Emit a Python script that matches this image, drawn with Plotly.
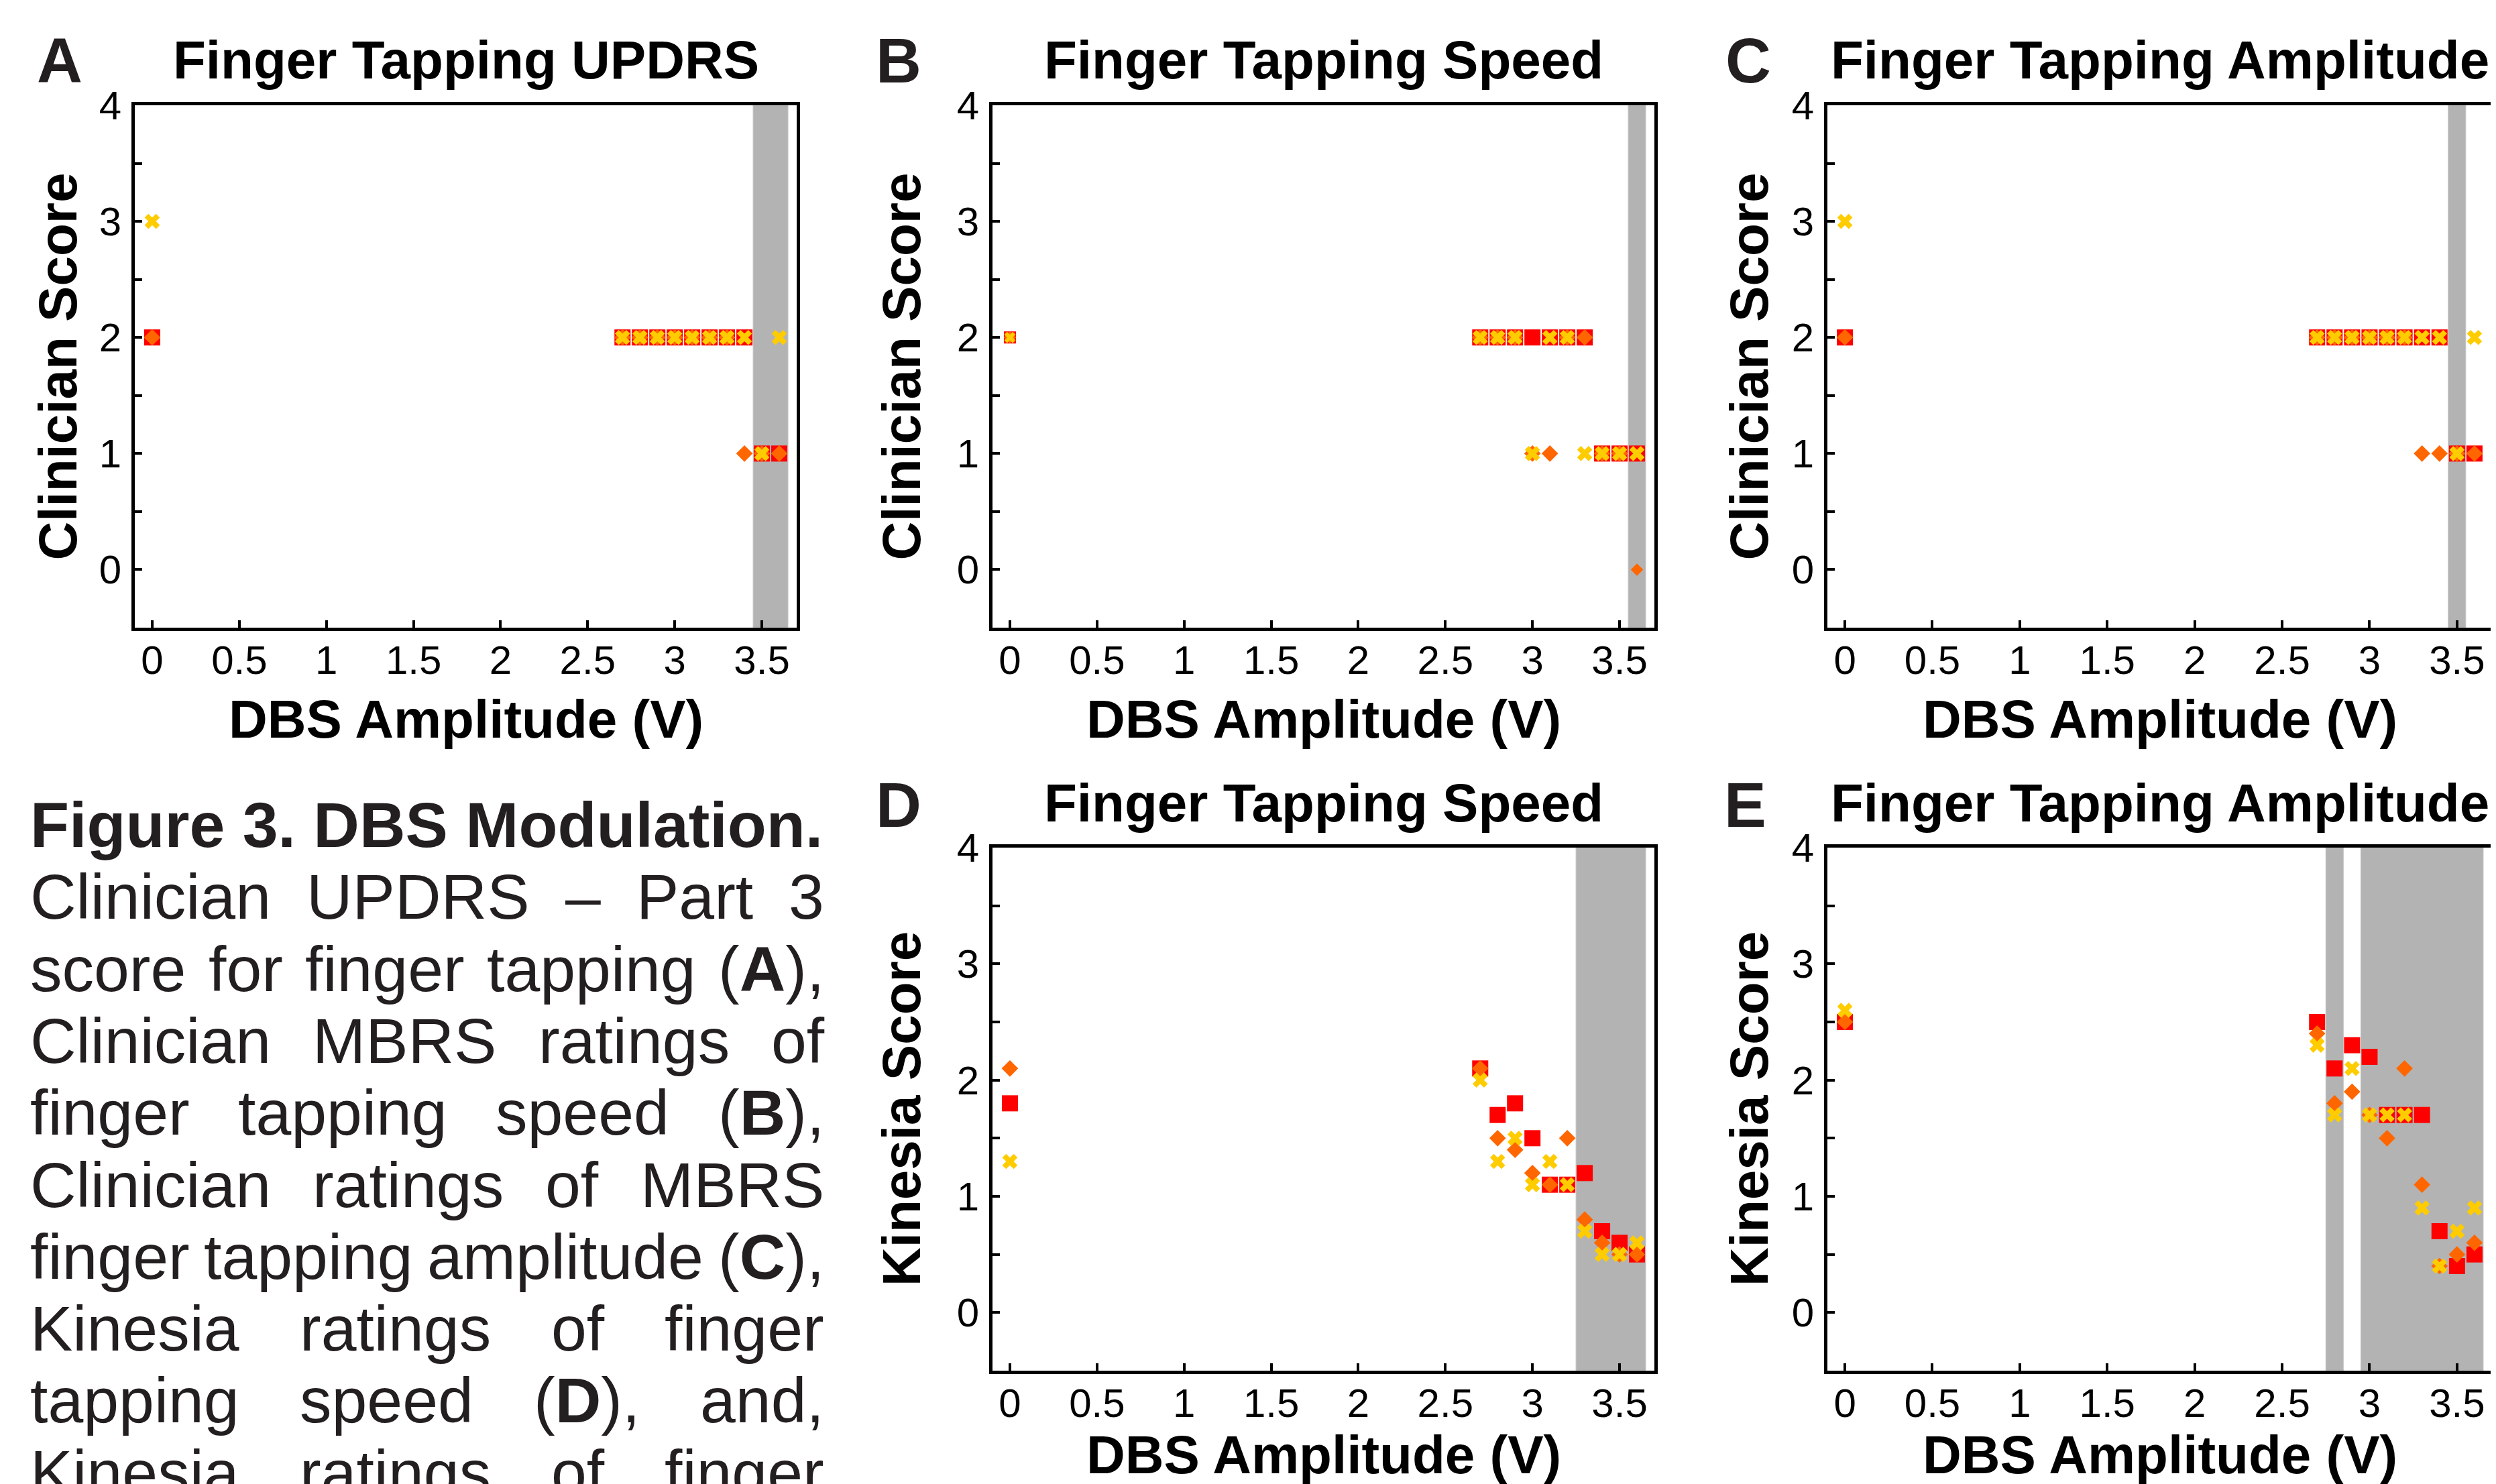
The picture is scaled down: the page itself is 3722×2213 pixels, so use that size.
import plotly.graph_objects as go

W, H = 3722, 2213

# ---------------- data ----------------
amp = [0, 2.7, 2.8, 2.9, 3.0, 3.1, 3.2, 3.3, 3.4, 3.5, 3.6]

A_sq = [2, 2, 2, 2, 2, 2, 2, 2, 2, 1, 1]
A_dia = [2, 2, 2, 2, 2, 2, 2, 2, 1, 1, 1]
A_x = [3, 2, 2, 2, 2, 2, 2, 2, 2, 1, 2]

B_sq = [2, 2, 2, 2, 2, 2, 2, 2, 1, 1, 1]
B_dia = [2, 2, 2, 2, 1, 1, 2, 2, 1, 1, 0]
B_x = [2, 2, 2, 2, 1, 2, 2, 1, 1, 1, 1]

C_sq = [2, 2, 2, 2, 2, 2, 2, 2, 2, 1, 1]
C_dia = [2, 2, 2, 2, 2, 2, 2, 1, 1, 1, 1]
C_x = [3, 2, 2, 2, 2, 2, 2, 2, 2, 1, 2]

D_sq = [1.8, 2.1, 1.7, 1.8, 1.5, 1.1, 1.1, 1.2, 0.7, 0.6, 0.5]
D_dia = [2.1, 2.1, 1.5, 1.4, 1.2, 1.1, 1.5, 0.8, 0.6, 0.5, 0.5]
D_x = [1.3, 2.0, 1.3, 1.5, 1.1, 1.3, 1.1, 0.7, 0.5, 0.5, 0.6]

E_sq = [2.5, 2.5, 2.1, 2.3, 2.2, 1.7, 1.7, 1.7, 0.7, 0.4, 0.5]
E_dia = [2.5, 2.4, 1.8, 1.9, 1.7, 1.5, 2.1, 1.1, 0.4, 0.5, 0.6]
E_x = [2.6, 2.3, 1.7, 2.1, 1.7, 1.7, 1.7, 0.9, 0.4, 0.7, 0.9]

# shaded amplitude windows
A_bands = [(3.45, 3.65)]
B_bands = [(3.55, 3.65)]
C_bands = [(3.45, 3.55)]
D_bands = [(3.25, 3.65)]
E_bands = [(2.75, 2.85), (2.95, 3.65)]

titles = {"A": "Finger Tapping UPDRS", "B": "Finger Tapping Speed",
          "C": "Finger Tapping Amplitude", "D": "Finger Tapping Speed",
          "E": "Finger Tapping Amplitude"}
ytitles = {"A": "Clinician Score", "B": "Clinician Score", "C": "Clinician Score",
           "D": "Kinesia Score", "E": "Kinesia Score"}
xtitle = "DBS Amplitude (V)"
x_tickvals = [0, 0.5, 1, 1.5, 2, 2.5, 3, 3.5]
x_ticktext = ["0", "0.5", "1", "1.5", "2", "2.5", "3", "3.5"]
y_tickvals = [0, 0.5, 1, 1.5, 2, 2.5, 3, 3.5, 4]
y_ticktext = ["0", "", "1", "", "2", "", "3", "", "4"]

caption_title = "Figure 3. DBS Modulation."
caption_lines = [
    "Clinician UPDRS – Part 3",
    "score for finger tapping (**A**),",
    "Clinician MBRS ratings of",
    "finger tapping speed (**B**),",
    "Clinician ratings of MBRS",
    "finger tapping amplitude (**C**),",
    "Kinesia ratings of finger",
    "tapping speed (**D**), and,",
    "Kinesia ratings of finger",
]

# ---------------- layout geometry (target pixels in the picture) ----------------
panels = {
    #      x0    x1    ytop  ybot
    "A": (201, 1188, 157, 936),
    "B": (1480, 2467, 157, 936),
    "C": (2725, 3716, 157, 936),
    "D": (1480, 2467, 1264, 2044),
    "E": (2725, 3716, 1264, 2044),
}
series = {
    "A": (A_sq, A_dia, A_x, A_bands),
    "B": (B_sq, B_dia, B_x, B_bands),
    "C": (C_sq, C_dia, C_x, C_bands),
    "D": (D_sq, D_dia, D_x, D_bands),
    "E": (E_sq, E_dia, E_x, E_bands),
}
letter_pos = {"A": (89, 90), "B": (1340, 90), "C": (2607, 90),
              "D": (1340, 1200), "E": (2602, 1200)}
ytitle_x = {"A": 86, "B": 1344, "C": 2608, "D": 1344, "E": 2608}

FONT = "Liberation Sans, Arial, Helvetica, sans-serif"
RED, ORANGE, YELLOW, GRAY = "#ff0000", "#ff6600", "#ffcc00", "#b3b3b3"
OFF = 8  # page body margin offset

def px(x):
    return (x - OFF) / W

def py(y):
    return 1 - (y - OFF) / H

fig = go.Figure()
annotations = []
shapes = []

for i, key in enumerate(["A", "B", "C", "D", "E"]):
    x0, x1, yt, yb = panels[key]
    sq, dia, xx, bands = series[key]
    n = i + 1
    xa = "x" if n == 1 else f"x{n}"
    ya = "y" if n == 1 else f"y{n}"
    small = 0.75
    s_sq = [24] * len(amp)
    s_dia = [19] * len(amp)
    s_x = [20] * len(amp)
    if key == "B":
        s_sq[0] *= small
        s_dia[0] *= small
        s_x[0] *= small
        s_dia[-1] *= small
    fig.add_trace(go.Scatter(x=amp, y=sq, mode="markers", xaxis=xa, yaxis=ya,
                             name="Series 1", showlegend=False,
                             marker=dict(symbol="square", size=s_sq, color=RED,
                                         opacity=1, line=dict(width=0))))
    fig.add_trace(go.Scatter(x=amp, y=dia, mode="markers", xaxis=xa, yaxis=ya,
                             name="Series 2", showlegend=False,
                             marker=dict(symbol="diamond", size=s_dia, color=ORANGE,
                                         opacity=1, line=dict(width=0))))
    fig.add_trace(go.Scatter(x=amp, y=xx, mode="markers", xaxis=xa, yaxis=ya,
                             name="Series 3", showlegend=False,
                             marker=dict(symbol="x", size=s_x, color=YELLOW,
                                         opacity=1, line=dict(width=0))))
    for b0, b1 in bands:
        shapes.append(dict(type="rect", xref=xa, yref=f"{ya} domain",
                           x0=b0, x1=b1, y0=0, y1=1, fillcolor=GRAY,
                           line=dict(width=1, color="#c4c4c4"), layer="below"))
    axcommon = dict(showgrid=False, zeroline=False, showline=True, linewidth=5,
                    linecolor="black", mirror=True, ticks="inside", ticklen=11,
                    tickwidth=4, tickcolor="black", automargin=False,
                    tickfont=dict(family=FONT, size=60, color="black"))
    fig.update_layout(**{
        ("xaxis" if n == 1 else f"xaxis{n}"): dict(
            domain=[px(x0), px(x1)], range=[-0.1, 3.7], anchor=ya,
            tickvals=x_tickvals, ticktext=x_ticktext, ticklabelstandoff=-8,
            **axcommon),
        ("yaxis" if n == 1 else f"yaxis{n}"): dict(
            domain=[py(yb), py(yt)], range=[-0.5, 4], anchor=xa,
            tickvals=y_tickvals, ticktext=y_ticktext, ticklabelstandoff=3,
            **axcommon),
    })
    cx = (x0 + x1) / 2
    cy = (yt + yb) / 2
    ttl_y = 89 if yt < 500 else 1197
    annotations.append(dict(text=f"<b>{titles[key]}</b>", x=px(cx), y=py(ttl_y),
                            xref="paper", yref="paper", showarrow=False,
                            xanchor="center", yanchor="middle",
                            font=dict(family=FONT, size=80, color="black")))
    lx, ly = letter_pos[key]
    annotations.append(dict(text=f"<b>{key}</b>", x=px(lx), y=py(ly),
                            xref="paper", yref="paper", showarrow=False,
                            xanchor="center", yanchor="middle",
                            font=dict(family=FONT, size=94, color="#231f20")))
    annotations.append(dict(text=f"<b>{ytitles[key]}</b>", x=px(ytitle_x[key]), y=py(cy),
                            xref="paper", yref="paper", showarrow=False, textangle=-90,
                            xanchor="center", yanchor="middle",
                            font=dict(family=FONT, size=80, color="black")))
    xt_y = 1072 if yt < 500 else 2169
    annotations.append(dict(text=f"<b>{xtitle}</b>", x=px(cx), y=py(xt_y),
                            xref="paper", yref="paper", showarrow=False,
                            xanchor="center", yanchor="middle",
                            font=dict(family=FONT, size=80, color="black")))

# ---------------- caption (justified text) ----------------
REG = {c: w for c, w in zip("abcdefghijklmnopqrstuvwxyz",
       [556, 556, 500, 556, 556, 278, 556, 556, 222, 222, 500, 222, 833, 556,
        556, 556, 556, 333, 500, 278, 556, 500, 722, 500, 500, 500])}
REG.update({c: w for c, w in zip("ABCDEFGHIJKLMNOPQRSTUVWXYZ",
       [667, 667, 722, 722, 667, 611, 778, 722, 278, 500, 667, 556, 833, 722,
        778, 667, 778, 722, 667, 611, 722, 667, 944, 667, 667, 611])})
REG.update({d: 556 for d in "0123456789"})
REG.update({" ": 278, "(": 333, ")": 333, ",": 278, ".": 278, "–": 556})
BOLD_CAP = {"A": 722, "B": 722, "C": 722, "D": 722}

def word_width(word, fs):
    total = 0
    parts = word.split("**")
    for k, part in enumerate(parts):
        bold = (k % 2 == 1)
        for ch in part:
            total += BOLD_CAP.get(ch, REG.get(ch, 556)) if bold else REG.get(ch, 556)
    return total * fs / 1000.0

def to_html(word):
    parts = word.split("**")
    return "".join(f"<b>{p}</b>" if k % 2 else p for k, p in enumerate(parts))

CAP_FS = 95
LEFT, RIGHT = 44, 1228
line0 = 1230
step = 107.3
annotations.append(dict(text=f"<b>{caption_title}</b>", x=px(LEFT), y=py(line0),
                        xref="paper", yref="paper", showarrow=False,
                        xanchor="left", yanchor="middle", borderpad=0,
                        font=dict(family=FONT, size=CAP_FS, color="#231f20")))
for li, line in enumerate(caption_lines):
    ycen = line0 + step * (li + 1)
    words = line.split(" ")
    widths = [word_width(wd, CAP_FS) for wd in words]
    gap = (RIGHT - LEFT - sum(widths)) / (len(words) - 1)
    xcur = LEFT
    for wd, wdt in zip(words, widths):
        annotations.append(dict(text=to_html(wd), x=px(xcur), y=py(ycen),
                                xref="paper", yref="paper", showarrow=False,
                                xanchor="left", yanchor="middle", borderpad=0,
                                font=dict(family=FONT, size=CAP_FS, color="#231f20")))
        xcur += wdt + gap

fig.update_layout(width=W, height=H, autosize=False,
                  margin=dict(l=0, r=0, t=0, b=0, autoexpand=False),
                  paper_bgcolor="white", plot_bgcolor="white",
                  annotations=annotations, shapes=shapes,
                  font=dict(family=FONT, color="black"))

fig.write_html("out.html")
